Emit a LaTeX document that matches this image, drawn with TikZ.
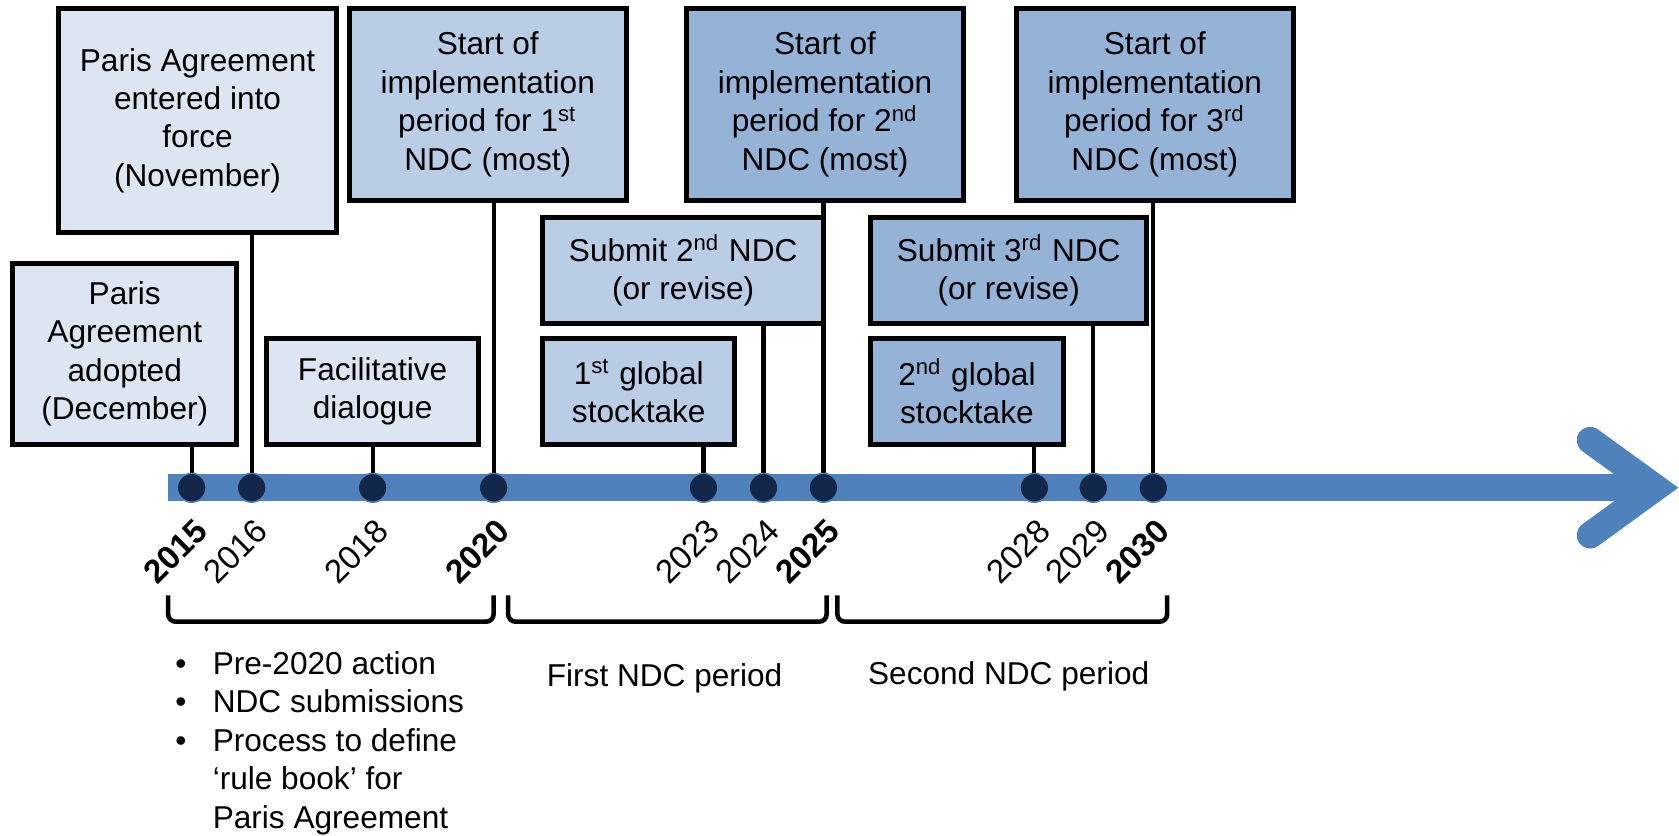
\documentclass[tikz,border=0pt]{standalone}
\usepackage{fontspec}
\setmainfont{Liberation Sans}
\definecolor{axisblue}{HTML}{4F81BD}
\definecolor{dotnavy}{HTML}{13274A}
\definecolor{paleblue}{HTML}{DCE6F2}
\definecolor{midblue}{HTML}{B9CDE5}
\definecolor{deepblue}{HTML}{95B3D7}
\newcommand{\ord}[1]{\textsuperscript{#1}}

\begin{document}
\begin{tikzpicture}[
  x=1cm,
  y=1cm,
  every node/.style={font=\fontsize{8.4}{10.2}\selectfont, black},
  event/.style={draw=black, line width=1.3pt, align=center, inner sep=0pt,
                minimum height=0.99cm},
  paleevent/.style={event, fill=paleblue},
  midevent/.style={event, fill=midblue},
  deepevent/.style={event, fill=deepblue},
  stem/.style={black, line width=1.1pt},
  yeardot/.style={circle, fill=dotnavy, draw=axisblue, line width=0.4pt,
                  inner sep=0pt, minimum size=0.27cm},
  yearlbl/.style={rotate=45, anchor=east, inner sep=0pt,
                  font=\fontsize{8.8}{10}\selectfont},
  yearbold/.style={yearlbl, font=\fontsize{8.8}{10}\selectfont\bfseries},
  period/.style={black, line width=1.2pt, rounded corners=2pt}
]
  \useasboundingbox (0,0) rectangle (15.68,7.80);

  % ---- time axis ----
  \draw[axisblue, line width=0.25cm] (1.566,3.245) -- (15.40,3.245);
  \draw[axisblue, line width=0.25cm, line cap=round]
    (14.85,3.688) -- (15.46,3.245) -- (14.85,2.802);

  % ---- year marks ----
  \foreach \yr/\xx in {2015/1.79, 2016/2.35, 2018/3.48, 2020/4.61,
                       2023/6.57, 2024/7.13, 2025/7.69,
                       2028/9.66, 2029/10.21, 2030/10.77}
    \node[yeardot] (y\yr) at (\xx,3.245) {};

  \foreach \yr/\st in {2015/yearbold, 2016/yearlbl, 2018/yearlbl,
                       2020/yearbold, 2023/yearlbl, 2024/yearlbl,
                       2025/yearbold, 2028/yearlbl, 2029/yearlbl,
                       2030/yearbold}
    \node[\st] (t\yr) at ([shift={(0.10,-0.35)}]y\yr.center) {\yr};

  % ---- events ----
  \node[paleevent, minimum width=2.09cm, minimum height=1.69cm] (adopt)
    at (1.165,4.495) {Paris\\Agreement\\adopted\\(December)};
  \node[paleevent, minimum width=2.59cm, minimum height=2.09cm] (inforce)
    at (1.845,6.675) {Paris Agreement\\entered into\\force\\(November)};
  \node[paleevent, minimum width=1.98cm] (dialog)
    at (3.48,4.145) {Facilitative\\dialogue};

  \node[midevent, minimum width=2.59cm, minimum height=1.79cm] (start1)
    at (4.555,6.825) {Start of\\implementation\\period for 1\ord{st}\\NDC (most)};
  \node[midevent, minimum width=2.62cm] (submit2)
    at (6.38,5.275) {Submit 2\ord{nd} NDC\\(or revise)};
  \node[midevent, minimum width=1.79cm] (stock1)
    at (5.965,4.145) {1\ord{st} global\\stocktake};

  \node[deepevent, minimum width=2.59cm, minimum height=1.79cm] (start2)
    at (7.705,6.825) {Start of\\implementation\\period for 2\ord{nd}\\NDC (most)};
  \node[deepevent, minimum width=2.58cm] (submit3)
    at (9.42,5.275) {Submit 3\ord{rd} NDC\\(or revise)};
  \node[deepevent, minimum width=1.80cm] (stock2)
    at (9.03,4.145) {2\ord{nd} global\\stocktake};
  \node[deepevent, minimum width=2.59cm, minimum height=1.79cm] (start3)
    at (10.785,6.825) {Start of\\implementation\\period for 3\ord{rd}\\NDC (most)};

  % ---- stems ----
  \foreach \yr/\ev in {2015/adopt, 2016/inforce, 2018/dialog, 2020/start1,
                       2023/stock1, 2024/submit2, 2025/start2,
                       2028/stock2, 2029/submit3, 2030/start3}
    \draw[stem] (y\yr.north) -- (y\yr.north |- \ev.south);

  % ---- periods ----
  \draw[period] (1.57,2.24) -- (1.57,1.994) -- (4.61,1.994) -- (4.61,2.24);
  \draw[period] (4.745,2.24) -- (4.745,1.994) -- (7.72,1.994) -- (7.72,2.24);
  \draw[period] (7.82,2.24) -- (7.82,1.994) -- (10.90,1.994) -- (10.90,2.24);

  \node[anchor=base west, inner sep=0pt] (prelist) at (1.63,1.50)
    {\begin{tabular}[t]{@{}p{0.35cm}@{}l@{}}
       \textbullet & Pre-2020 action\\
       \textbullet & NDC submissions\\
       \textbullet & Process to define\\
                   & ‘rule book’ for\\
                   & Paris Agreement
     \end{tabular}};
  \node[anchor=base west, inner sep=0pt] (firstlbl) at (5.10,1.39)
    {First NDC period};
  \node[anchor=base west, inner sep=0pt] (secondlbl) at (8.10,1.41)
    {Second NDC period};
\end{tikzpicture}
\end{document}
